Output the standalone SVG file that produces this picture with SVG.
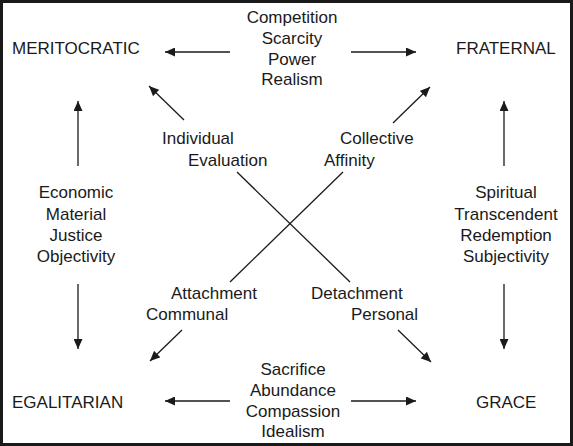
<svg xmlns="http://www.w3.org/2000/svg" width="573" height="446" viewBox="0 0 573 446">
<style>
text{font-family:"Liberation Sans",Arial,sans-serif;font-size:17px;fill:#1a1a1a}
.c{text-anchor:middle}
.ln{stroke:#1a1a1a;stroke-width:1.3;fill:none}
</style>
<defs>
<marker id="ah" viewBox="0 0 10 9" refX="10" refY="4.5" markerWidth="10" markerHeight="9" markerUnits="userSpaceOnUse" orient="auto">
<path d="M0,0 L10,4.5 L0,9 z" fill="#1a1a1a"/>
</marker>
</defs>
<rect x="1.5" y="1.5" width="570" height="443" fill="#fff" stroke="#1a1a1a" stroke-width="3"/>
<g id="connectors">
<line class="ln" x1="230" y1="52" x2="165" y2="52" marker-end="url(#ah)"/>
<line class="ln" x1="351" y1="52" x2="416" y2="52" marker-end="url(#ah)"/>
<line class="ln" x1="184" y1="120" x2="149" y2="86" marker-end="url(#ah)"/>
<line class="ln" x1="393" y1="123" x2="430" y2="87" marker-end="url(#ah)"/>
<line class="ln" x1="78" y1="166" x2="78" y2="101" marker-end="url(#ah)"/>
<line class="ln" x1="504" y1="166" x2="504" y2="101" marker-end="url(#ah)"/>
<line class="ln" x1="78" y1="284" x2="78" y2="349" marker-end="url(#ah)"/>
<line class="ln" x1="504" y1="284" x2="504" y2="349" marker-end="url(#ah)"/>
<line class="ln" x1="182" y1="330" x2="150" y2="361" marker-end="url(#ah)"/>
<line class="ln" x1="398" y1="330" x2="431" y2="362" marker-end="url(#ah)"/>
<line class="ln" x1="230" y1="401" x2="165" y2="401" marker-end="url(#ah)"/>
<line class="ln" x1="351" y1="401" x2="416" y2="401" marker-end="url(#ah)"/>
<line class="ln" x1="237" y1="172" x2="350" y2="282"/>
<line class="ln" x1="343" y1="172" x2="230" y2="282"/>
</g>
<g id="meritocratic"><text x="12" y="54">MERITOCRATIC</text></g>
<g id="fraternal"><text x="456" y="54">FRATERNAL</text></g>
<g id="egalitarian"><text x="12" y="408">EGALITARIAN</text></g>
<g id="grace"><text x="476" y="408">GRACE</text></g>
<g id="top"><text class="c" x="292" y="23">Competition</text><text class="c" x="292" y="44">Scarcity</text><text class="c" x="292" y="65">Power</text><text class="c" x="292" y="85">Realism</text></g>
<g id="bottom"><text class="c" x="293" y="375">Sacrifice</text><text class="c" x="293" y="396">Abundance</text><text class="c" x="293" y="417">Compassion</text><text class="c" x="293" y="437">Idealism</text></g>
<g id="left"><text class="c" x="76" y="198">Economic</text><text class="c" x="76" y="220">Material</text><text class="c" x="76" y="241">Justice</text><text class="c" x="76" y="262">Objectivity</text></g>
<g id="right"><text class="c" x="506" y="198">Spiritual</text><text class="c" x="506" y="220">Transcendent</text><text class="c" x="506" y="241">Redemption</text><text class="c" x="506" y="262">Subjectivity</text></g>
<g id="individual"><text x="162" y="144">Individual</text><text x="188" y="166">Evaluation</text></g>
<g id="collective"><text x="340" y="144">Collective</text><text x="324" y="166">Affinity</text></g>
<g id="attachment"><text x="171" y="299">Attachment</text><text x="146" y="320">Communal</text></g>
<g id="detachment"><text x="311" y="299">Detachment</text><text x="351" y="320">Personal</text></g>
</svg>
